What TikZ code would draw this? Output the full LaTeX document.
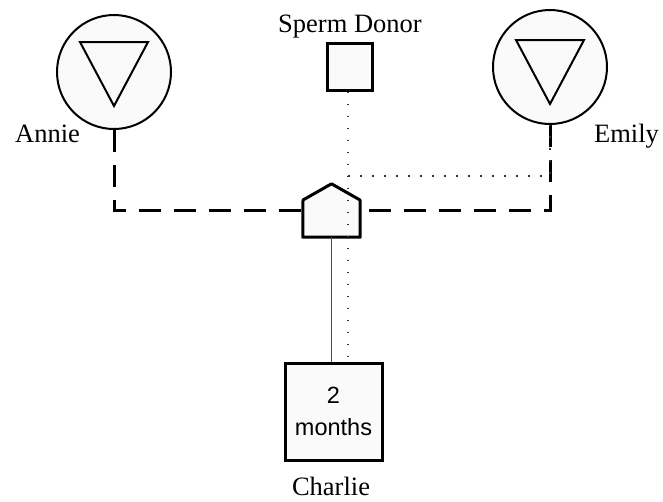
\documentclass[tikz,border=0pt]{standalone}
\usepackage{fontspec}
\setmainfont{Liberation Serif}
\newfontfamily\arialfont{Liberation Sans}
\usetikzlibrary{positioning}

\begin{document}
\begin{tikzpicture}
        [x=1pt,y=-1pt,
        person/.style={draw,line width=2pt,fill=black!2,inner sep=0},
        woman/.style={person,shape=circle,minimum size=114pt},
        man/.style={person,shape=rectangle,line width=3pt},
        tag/.style={font=\fontsize{26.5}{30}\selectfont,inner sep=0,anchor=base},
        partner/.style={line width=3pt,dash pattern=on 22pt off 13pt},
        donation/.style={line width=1.6pt,dash pattern=on 1.6pt off 10.4pt,black!80}]

        \useasboundingbox (0,0) rectangle (663,501);

        \node[woman] (annie) at (114, 72) {};
        \node[woman] (emily) at (550, 67) {};
        \node[man,minimum width=45pt,minimum height=47pt] (donor) at (349.5, 66.5) {};
        \node[man,minimum size=97pt,align=center,
              font=\arialfont\fontsize{23.5}{32}\selectfont] (charlie) at (333.5, 411.5) {2\\months};
        \node[inner sep=0,minimum width=57pt,minimum height=53pt] (preg) at (331.5, 210.5) {};

        \node[tag] (nannie) at (47.5, 142) {Annie};
        \node[tag] (nemily) at (626.5, 142) {Emily};
        \node[tag] (ndonor) at (350, 32) {Sperm Donor};
        \node[tag] (ncharlie) at (331, 495) {Charlie};

        % triangles inside the circles
        \draw[line width=2pt] ([shift={(-34,-30)}]annie.center) -- ([shift={(34,-30)}]annie.center)
            -- ([shift={(0,34)}]annie.center) -- cycle;
        \draw[line width=2pt] ([shift={(-34,-27)}]emily.center) -- ([shift={(34,-27)}]emily.center)
            -- ([shift={(0,37)}]emily.center) -- cycle;

        % pregnancy
        \draw[line width=3pt,fill=black!2,line join=round] (preg.south west) -- (303, 200)
            -- (preg.north) -- (360, 200) -- (preg.south east) -- cycle;

        \draw[partner] (annie.south) |- (preg.west);
        \draw[partner] (emily.south) |- (preg.east);
        \draw[black!70,line width=1.2pt] (preg.south) -- (preg.south |- charlie.north);

        \coordinate (link) at (348, 176);
        \draw[donation] (donor.south -| link) -- (link |- charlie.north);
        \draw[donation] (link) -| (emily.south);
      \end{tikzpicture}
\end{document}
